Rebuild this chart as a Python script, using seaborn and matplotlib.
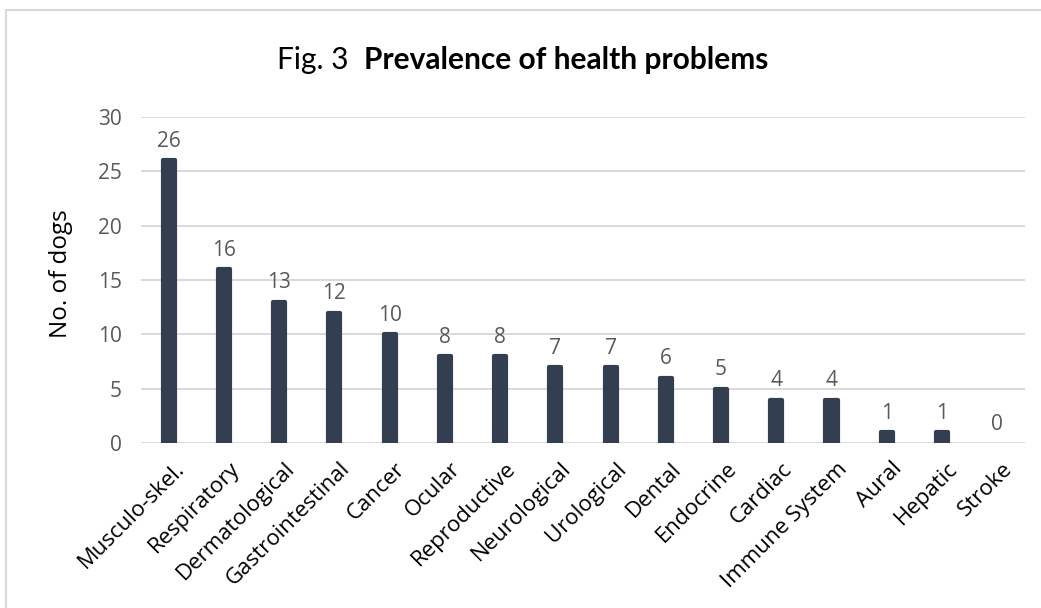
import matplotlib
matplotlib.use("Agg")
import matplotlib.pyplot as plt
from matplotlib.lines import Line2D
from matplotlib.transforms import ScaledTranslation
import seaborn as sns
import pandas as pd

categories = ["Musculo-skel.", "Respiratory", "Dermatological", "Gastrointestinal",
              "Cancer", "Ocular", "Reproductive", "Neurological", "Urological",
              "Dental", "Endocrine", "Cardiac", "Immune System", "Aural",
              "Hepatic", "Stroke"]
counts = [26, 16, 13, 12, 10, 8, 8, 7, 7, 6, 5, 4, 4, 1, 1, 0]
y_ticks = [0, 5, 10, 15, 20, 25, 30]

sns.set_theme(style="white")
plt.rcParams["font.family"] = ["Open Sans", "DejaVu Sans"]

BAR = "#333f50"
GRID = "#d9d9d9"
TICK_GREY = "#595959"

df = pd.DataFrame({"problem": categories, "dogs": counts})

fig = plt.figure(figsize=(10.41, 6.08), dpi=100)
ax = fig.add_axes([0.1355, 0.2714, 0.849, 0.5362])

sns.barplot(data=df, x="problem", y="dogs", color=BAR, width=0.22,
            saturation=1, ax=ax, zorder=3)

# rounded bar ends: stroke each bar in its own colour with round joins
for patch, v in zip(ax.patches, counts):
    patch.set_edgecolor(BAR)
    patch.set_joinstyle("round")
    patch.set_linewidth(3.0 if v > 0 else 0)

ax.set_ylim(0, 30)
ax.set_xlim(-0.5, len(categories) - 0.5)
ax.set_yticks(y_ticks)
ax.yaxis.grid(True, color=GRID, linewidth=1.4, zorder=0)
ax.set_axisbelow(True)
for s in ax.spines.values():
    s.set_visible(False)

ax.tick_params(axis="y", labelsize=15, labelcolor=TICK_GREY, length=0, pad=14)
ax.tick_params(axis="x", labelsize=16, labelcolor="black", length=0, pad=11)
shift = ScaledTranslation(5 / 100, 0, fig.dpi_scale_trans)
for lab in ax.get_xticklabels():
    lab.set_rotation(45)
    lab.set_ha("right")
    lab.set_rotation_mode("anchor")
    lab.set_transform(lab.get_transform() + shift)

ax.set_xlabel("")
ax.set_ylabel("No. of dogs", fontsize=17.5, color="black")
ax.yaxis.set_label_coords(-0.077, 0.52)

for i, v in enumerate(counts):
    ax.annotate(str(v), (i, v), xytext=(0, 6), textcoords="offset points",
                ha="center", va="bottom", fontsize=15, color=TICK_GREY)

# title: regular prefix followed by bold heading, centred as one line
tfont = ["Lato", "DejaVu Sans"]
t1 = fig.text(0, 0, "Fig. 3  ", fontsize=21.5, family=tfont, color="black",
              va="baseline")
t2 = fig.text(0, 0, "Prevalence of health problems", fontsize=21.5, family=tfont,
              fontweight="bold", color="black", va="baseline")
fig.canvas.draw()
r = fig.canvas.get_renderer()
w1 = t1.get_window_extent(r).width
w2 = t2.get_window_extent(r).width
W = fig.get_figwidth() * fig.dpi
x0 = 523 - (w1 + w2) / 2
yb = 1 - 69 / (fig.get_figheight() * fig.dpi)
t1.set_position((x0 / W, yb))
t2.set_position(((x0 + w1) / W, yb))

# chart frame lines
fig.add_artist(Line2D([6 / 1041, 6 / 1041], [0, 1 - 10 / 608],
                      color=GRID, linewidth=1.5, transform=fig.transFigure))
fig.add_artist(Line2D([6 / 1041, 1], [1 - 10 / 608, 1 - 10 / 608],
                      color=GRID, linewidth=1.5, transform=fig.transFigure))

fig.savefig("out.png", dpi=100, facecolor="white")
